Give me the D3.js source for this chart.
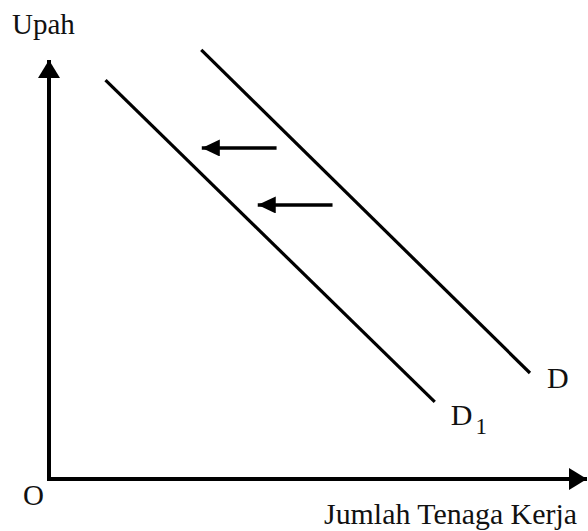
<!DOCTYPE html>
<html>
<head>
<meta charset="utf-8">
<script src="https://cdn.jsdelivr.net/npm/d3@7"></script>
<style>
  body { margin: 0; background: #fff; }
  text { font-family: "Liberation Serif", "Times New Roman", serif; fill: #111; }
</style>
</head>
<body>
<svg id="chart"></svg>
<script>
// Chart size
const width = 588;
const height = 531;

// Demand curves (start and end point, in axis units 0-10)
const curveNames = ["D", "D1"];
const curveStart = [[2.83, 10.24], [1.05, 9.52]];
const curveEnd = [[8.94, 2.53], [7.17, 1.84]];

// Shift arrows (from tail to head)
const arrowTail = [[4.23, 7.90], [5.27, 6.54]];
const arrowHead = [[2.84, 7.90], [3.88, 6.54]];

// Axis titles
const yTitle = "Upah";
const xTitle = "Jumlah Tenaga Kerja";
const originLabel = "O";

// Scales
const x = d3.scaleLinear().domain([0, 10]).range([49, 587]);
const y = d3.scaleLinear().domain([0, 10]).range([479, 60]);

const svg = d3.select("#chart")
    .attr("width", width)
    .attr("height", height);

// Arrow heads
const defs = svg.append("defs");
defs.append("marker")
    .attr("id", "axis-head")
    .attr("viewBox", "0 0 18 22")
    .attr("refX", 18)
    .attr("refY", 11)
    .attr("markerWidth", 18)
    .attr("markerHeight", 22)
    .attr("markerUnits", "userSpaceOnUse")
    .attr("orient", "auto")
    .append("path")
    .attr("d", "M0,0L18,11L0,22Z")
    .attr("fill", "#000");

defs.append("marker")
    .attr("id", "shift-head")
    .attr("viewBox", "0 0 18 17")
    .attr("refX", 18)
    .attr("refY", 8.5)
    .attr("markerWidth", 18)
    .attr("markerHeight", 17)
    .attr("markerUnits", "userSpaceOnUse")
    .attr("orient", "auto")
    .append("path")
    .attr("d", "M0,0L18,8.5L0,17Z")
    .attr("fill", "#000");

// Axes
svg.append("path")
    .attr("d", d3.line()([[x(0), y(0)], [x(0), y(10)]]))
    .attr("stroke", "#000")
    .attr("stroke-width", 4)
    .attr("fill", "none")
    .attr("marker-end", "url(#axis-head)");

svg.append("path")
    .attr("d", d3.line()([[x(0) - 2, y(0)], [x(10), y(0)]]))
    .attr("stroke", "#000")
    .attr("stroke-width", 4)
    .attr("fill", "none")
    .attr("marker-end", "url(#axis-head)");

// Demand curves
svg.selectAll(".curve")
    .data(curveNames)
    .enter().append("path")
    .attr("class", "curve")
    .attr("d", (d, i) => d3.line()([
        [x(curveStart[i][0]), y(curveStart[i][1])],
        [x(curveEnd[i][0]), y(curveEnd[i][1])]
    ]))
    .attr("stroke", "#000")
    .attr("stroke-width", 3.2)
    .attr("fill", "none");

// Shift arrows
svg.selectAll(".shift")
    .data(arrowTail)
    .enter().append("path")
    .attr("class", "shift")
    .attr("d", (d, i) => d3.line()([
        [x(d[0]), y(d[1])],
        [x(arrowHead[i][0]), y(arrowHead[i][1])]
    ]))
    .attr("stroke", "#000")
    .attr("stroke-width", 3.5)
    .attr("fill", "none")
    .attr("marker-end", "url(#shift-head)");

// Curve labels
svg.append("text")
    .attr("x", x(curveEnd[0][0]) + 17)
    .attr("y", y(curveEnd[0][1]) + 15)
    .style("font-size", "30px")
    .text("D");

const d1 = svg.append("text")
    .attr("x", x(curveEnd[1][0]) + 16)
    .attr("y", y(curveEnd[1][1]) + 23)
    .style("font-size", "30px");
d1.append("tspan").text("D");
d1.append("tspan")
    .attr("dx", 3)
    .attr("dy", 9)
    .style("font-size", "23px")
    .text("1");

// Axis titles
svg.append("text")
    .attr("x", 12)
    .attr("y", 34)
    .style("font-size", "29px")
    .text(yTitle);

svg.append("text")
    .attr("x", 324)
    .attr("y", 524)
    .attr("textLength", 253)
    .attr("lengthAdjust", "spacingAndGlyphs")
    .style("font-size", "30px")
    .text(xTitle);

svg.append("text")
    .attr("x", 23)
    .attr("y", 505)
    .style("font-size", "29px")
    .text(originLabel);
</script>
</body>
</html>
